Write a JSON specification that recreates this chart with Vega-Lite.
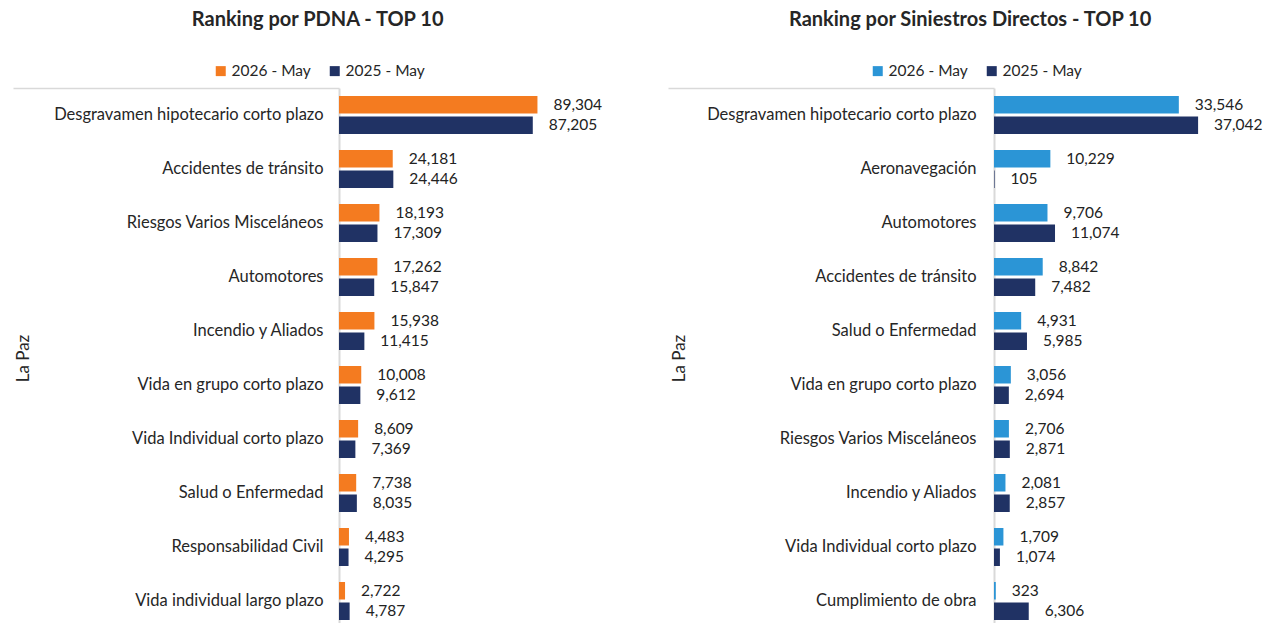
{
  "$schema": "https://vega.github.io/schema/vega-lite/v6.json",
  "padding": {"left": 12, "top": 10, "right": 0, "bottom": 0},
  "background": "white",
  "config": {"view": {"stroke": null}, "font": "Lato", "text": {"font": "Lato"}},
  "datasets": {
    "d": [
      {"panel": "PDNA", "cat": "Desgravamen hipotecario corto plazo", "serie": "2026 - May", "value": 89304},
      {"panel": "PDNA", "cat": "Desgravamen hipotecario corto plazo", "serie": "2025 - May", "value": 87205},
      {"panel": "PDNA", "cat": "Accidentes de tránsito", "serie": "2026 - May", "value": 24181},
      {"panel": "PDNA", "cat": "Accidentes de tránsito", "serie": "2025 - May", "value": 24446},
      {"panel": "PDNA", "cat": "Riesgos Varios Misceláneos", "serie": "2026 - May", "value": 18193},
      {"panel": "PDNA", "cat": "Riesgos Varios Misceláneos", "serie": "2025 - May", "value": 17309},
      {"panel": "PDNA", "cat": "Automotores", "serie": "2026 - May", "value": 17262},
      {"panel": "PDNA", "cat": "Automotores", "serie": "2025 - May", "value": 15847},
      {"panel": "PDNA", "cat": "Incendio y Aliados", "serie": "2026 - May", "value": 15938},
      {"panel": "PDNA", "cat": "Incendio y Aliados", "serie": "2025 - May", "value": 11415},
      {"panel": "PDNA", "cat": "Vida en grupo corto plazo", "serie": "2026 - May", "value": 10008},
      {"panel": "PDNA", "cat": "Vida en grupo corto plazo", "serie": "2025 - May", "value": 9612},
      {"panel": "PDNA", "cat": "Vida Individual corto plazo", "serie": "2026 - May", "value": 8609},
      {"panel": "PDNA", "cat": "Vida Individual corto plazo", "serie": "2025 - May", "value": 7369},
      {"panel": "PDNA", "cat": "Salud o Enfermedad", "serie": "2026 - May", "value": 7738},
      {"panel": "PDNA", "cat": "Salud o Enfermedad", "serie": "2025 - May", "value": 8035},
      {"panel": "PDNA", "cat": "Responsabilidad Civil", "serie": "2026 - May", "value": 4483},
      {"panel": "PDNA", "cat": "Responsabilidad Civil", "serie": "2025 - May", "value": 4295},
      {"panel": "PDNA", "cat": "Vida individual largo plazo", "serie": "2026 - May", "value": 2722},
      {"panel": "PDNA", "cat": "Vida individual largo plazo", "serie": "2025 - May", "value": 4787},
      {"panel": "SD", "cat": "Desgravamen hipotecario corto plazo", "serie": "2026 - May", "value": 33546},
      {"panel": "SD", "cat": "Desgravamen hipotecario corto plazo", "serie": "2025 - May", "value": 37042},
      {"panel": "SD", "cat": "Aeronavegación", "serie": "2026 - May", "value": 10229},
      {"panel": "SD", "cat": "Aeronavegación", "serie": "2025 - May", "value": 105},
      {"panel": "SD", "cat": "Automotores", "serie": "2026 - May", "value": 9706},
      {"panel": "SD", "cat": "Automotores", "serie": "2025 - May", "value": 11074},
      {"panel": "SD", "cat": "Accidentes de tránsito", "serie": "2026 - May", "value": 8842},
      {"panel": "SD", "cat": "Accidentes de tránsito", "serie": "2025 - May", "value": 7482},
      {"panel": "SD", "cat": "Salud o Enfermedad", "serie": "2026 - May", "value": 4931},
      {"panel": "SD", "cat": "Salud o Enfermedad", "serie": "2025 - May", "value": 5985},
      {"panel": "SD", "cat": "Vida en grupo corto plazo", "serie": "2026 - May", "value": 3056},
      {"panel": "SD", "cat": "Vida en grupo corto plazo", "serie": "2025 - May", "value": 2694},
      {"panel": "SD", "cat": "Riesgos Varios Misceláneos", "serie": "2026 - May", "value": 2706},
      {"panel": "SD", "cat": "Riesgos Varios Misceláneos", "serie": "2025 - May", "value": 2871},
      {"panel": "SD", "cat": "Incendio y Aliados", "serie": "2026 - May", "value": 2081},
      {"panel": "SD", "cat": "Incendio y Aliados", "serie": "2025 - May", "value": 2857},
      {"panel": "SD", "cat": "Vida Individual corto plazo", "serie": "2026 - May", "value": 1709},
      {"panel": "SD", "cat": "Vida Individual corto plazo", "serie": "2025 - May", "value": 1074},
      {"panel": "SD", "cat": "Cumplimiento de obra", "serie": "2026 - May", "value": 323},
      {"panel": "SD", "cat": "Cumplimiento de obra", "serie": "2025 - May", "value": 6306}
    ]
  },
  "spacing": 28,
  "resolve": {"scale": {"color": "independent", "x": "independent", "y": "independent"}, "legend": {"color": "independent"}},
  "hconcat": [
    {
      "title": {"text": "Ranking por PDNA - TOP 10", "fontSize": 20, "fontWeight": "bold", "color": "#262626", "offset": 33, "dx": -8, "frame": "bounds", "anchor": "middle"},
      "width": 300,
      "height": 540,
      "data": {"name": "d"},
      "transform": [{"filter": "datum.panel === 'PDNA'"}],
      "encoding": {
        "y": {"field": "cat", "type": "nominal", "sort": null, "scale": {"paddingInner": 0, "paddingOuter": 0},
          "axis": {"title": "La Paz", "titleFontSize": 17, "titleFontWeight": "normal", "titleX": -307, "titleY": 270, "titleAngle": -90, "titleBaseline": "bottom", "titleAlign": "center", "titleColor": "#262626",
            "labelFontSize": 16.5, "labelColor": "#262626", "labelPadding": -310, "labelLimit": 400,
            "ticks": true, "tickSize": 326, "bandPosition": 0, "tickWidth": 1.5,
            "tickColor": {"condition": {"test": "datum.value === 'Desgravamen hipotecario corto plazo'", "value": "#D9D9D9"}, "value": "transparent"},
            "domainColor": "#D9D9D9", "domainWidth": 2}},
        "yOffset": {"field": "serie", "sort": ["2026 - May", "2025 - May"], "scale": {"paddingInner": 0.146, "paddingOuter": 0.39}},
        "x": {"field": "value", "type": "quantitative", "scale": {"domain": [0, 135000]}, "axis": null}
      },
      "layer": [
        {"mark": {"type": "bar"},
          "encoding": {"color": {"field": "serie", "type": "nominal",
            "scale": {"domain": ["2026 - May", "2025 - May"], "range": ["#F47B20", "#203264"]},
            "legend": {"title": null, "orient": "none", "direction": "horizontal", "legendX": -126, "legendY": -25,
              "symbolType": "square", "symbolSize": 100, "symbolStrokeWidth": 0, "labelFontSize": 15.5, "labelColor": "#262626",
              "columnPadding": 16, "padding": 0, "labelOffset": 3}}}},
        {"mark": {"type": "text", "align": "left", "baseline": "middle", "dx": 16, "fontSize": 15.5, "color": "#222222"},
          "encoding": {"text": {"field": "value", "type": "quantitative", "format": ","}}}
      ]
    },
    {
      "title": {"text": "Ranking por Siniestros Directos - TOP 10", "fontSize": 20, "fontWeight": "bold", "color": "#262626", "offset": 33, "dx": -1, "frame": "bounds", "anchor": "middle"},
      "width": 281,
      "height": 540,
      "data": {"name": "d"},
      "transform": [{"filter": "datum.panel === 'SD'"}],
      "encoding": {
        "y": {"field": "cat", "type": "nominal", "sort": null, "scale": {"paddingInner": 0, "paddingOuter": 0},
          "axis": {"title": "La Paz", "titleFontSize": 17, "titleFontWeight": "normal", "titleX": -306, "titleY": 270, "titleAngle": -90, "titleBaseline": "bottom", "titleAlign": "center", "titleColor": "#262626",
            "labelFontSize": 16.5, "labelColor": "#262626", "labelPadding": -308, "labelLimit": 400,
            "ticks": true, "tickSize": 326, "bandPosition": 0, "tickWidth": 1.5,
            "tickColor": {"condition": {"test": "datum.value === 'Desgravamen hipotecario corto plazo'", "value": "#D9D9D9"}, "value": "transparent"},
            "domainColor": "#D9D9D9", "domainWidth": 2}},
        "yOffset": {"field": "serie", "sort": ["2026 - May", "2025 - May"], "scale": {"paddingInner": 0.146, "paddingOuter": 0.39}},
        "x": {"field": "value", "type": "quantitative", "scale": {"domain": [0, 51000]}, "axis": null}
      },
      "layer": [
        {"mark": {"type": "bar"},
          "encoding": {"color": {"field": "serie", "type": "nominal",
            "scale": {"domain": ["2026 - May", "2025 - May"], "range": ["#2B95D6", "#203264"]},
            "legend": {"title": null, "orient": "none", "direction": "horizontal", "legendX": -124, "legendY": -25,
              "symbolType": "square", "symbolSize": 100, "symbolStrokeWidth": 0, "labelFontSize": 15.5, "labelColor": "#262626",
              "columnPadding": 16, "padding": 0, "labelOffset": 3}}}},
        {"mark": {"type": "text", "align": "left", "baseline": "middle", "dx": 16, "fontSize": 15.5, "color": "#222222"},
          "encoding": {"text": {"field": "value", "type": "quantitative", "format": ","}}}
      ]
    }
  ]
}
